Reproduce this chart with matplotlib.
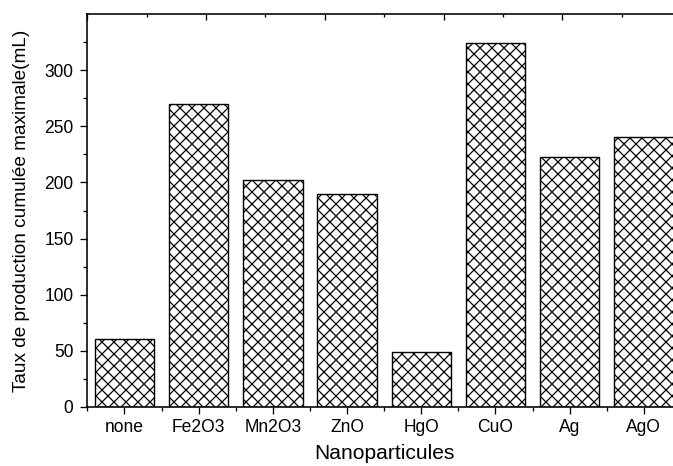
import matplotlib
matplotlib.use("Agg")
import matplotlib.pyplot as plt
from matplotlib.ticker import MultipleLocator, FixedLocator

plt.rcParams['font.family'] = ['Liberation Sans', 'DejaVu Sans']

categories = ["none", "Fe2O3", "Mn2O3", "ZnO", "HgO", "CuO", "Ag", "AgO"]
production = [60, 270, 202, 190, 49, 324, 223, 241]

W, H, DPI = 673, 466, 72
PT = 72.0 / DPI  # points per pixel

plt.rcParams['hatch.linewidth'] = 1.25 * PT

fig = plt.figure(figsize=(W / DPI, H / DPI), dpi=DPI)

# axes frame runs slightly past the right edge of the canvas
left, right, top, bottom = 87.3, 681.0, 14.3, 406.7
ax = fig.add_axes([left / W, 1 - bottom / H, (right - left) / W, (bottom - top) / H])

x = list(range(len(categories)))
ax.bar(x, production, width=0.8, color="white", edgecolor="black",
       linewidth=1.4 * PT, hatch="xx")

ax.set_xlim(-0.5, len(categories) - 0.5)
ax.set_ylim(0, 350)

ax.set_xticks(x)
ax.set_xticklabels(categories)
ax.xaxis.set_minor_locator(FixedLocator([i - 0.5 for i in range(len(categories) + 1)]))
ax.yaxis.set_major_locator(FixedLocator(list(range(0, 301, 50))))
ax.yaxis.set_minor_locator(FixedLocator(list(range(25, 326, 50))))

ax.tick_params(axis="both", which="major", direction="out", length=7 * PT,
               width=1.3 * PT, labelsize=17.5 * PT)
ax.tick_params(axis="x", which="major", pad=5 * PT)
ax.tick_params(axis="y", which="major", pad=7 * PT)
ax.tick_params(axis="both", which="minor", direction="out", length=4 * PT,
               width=1.3 * PT)
ax.tick_params(top=False, right=False)

for side in ("left", "bottom", "top"):
    ax.spines[side].set_linewidth(1.6 * PT)
ax.spines["right"].set_visible(False)

# inward ticks along the top edge
axt = ax.twiny()
axt.set_xlim(0, 1)
axt.xaxis.set_major_locator(MultipleLocator(0.2))
axt.xaxis.set_minor_locator(MultipleLocator(0.1))
axt.tick_params(axis="x", which="major", direction="in", length=6 * PT,
                width=1.3 * PT, labelbottom=False, labeltop=False)
axt.tick_params(axis="x", which="minor", direction="in", length=3 * PT,
                width=1.3 * PT)
for s in axt.spines.values():
    s.set_visible(False)

ax.set_ylabel("Taux de production cumulée maximale(mL)", fontsize=19 * PT,
              labelpad=14 * PT)
ax.set_xlabel("Nanoparticules", fontsize=21 * PT, labelpad=8 * PT)

fig.savefig("out.png", dpi=DPI)
